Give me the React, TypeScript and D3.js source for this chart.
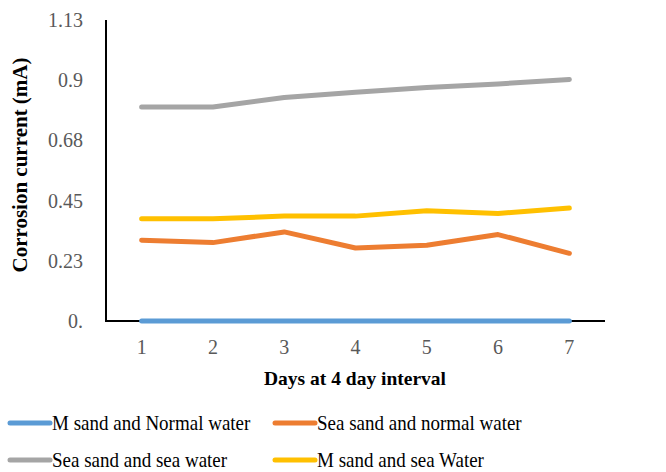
import React from "react";
import * as d3 from "d3";

const days = ["1", "2", "3", "4", "5", "6", "7"];
const yTicks = [0, 0.225, 0.45, 0.675, 0.9, 1.125];
const yTickLabels = ["0.", "0.23", "0.45", "0.68", "0.9", "1.13"];
const mSandNormal = [0, 0, 0, 0, 0, 0, 0];
const seaSandNormal = [0.302, 0.293, 0.333, 0.273, 0.283, 0.323, 0.253];
const seaSandSea = [0.8, 0.8, 0.835, 0.855, 0.873, 0.886, 0.903];
const mSandSea = [0.382, 0.382, 0.392, 0.392, 0.412, 0.402, 0.422];
const seriesNames = [
  "M sand and Normal water",
  "Sea sand and normal water",
  "Sea sand and sea water",
  "M sand and sea Water",
];
const colors = ["#5b9bd5", "#ed7d31", "#a5a5a5", "#ffc000"];

export default function App() {
  const W = 666, H = 472;
  const left = 106, right = 605, top = 20, bottom = 321;
  const x = d3.scalePoint<string>().domain(days).range([left, right]).padding(0.5);
  const y = d3.scaleLinear().domain([0, 1.125]).range([bottom, top]);
  const line = d3
    .line<number>()
    .x((_, i) => x(days[i]) as number)
    .y((d) => y(d));
  const data = [mSandNormal, seaSandNormal, seaSandSea, mSandSea];
  const drawOrder = [2, 3, 1, 0];
  const font = "'Liberation Serif', 'Times New Roman', serif";
  const legendPos = [
    [8, 423],
    [273, 423],
    [8, 460],
    [273, 460],
  ];
  return (
    <svg
      width={W}
      height={H}
      style={{ position: "absolute", left: 0, top: 0, background: "#fff" }}
      fontFamily={font}
    >
      <rect width={W} height={H} fill="#fff" />
      {yTicks.map((t, i) => (
        <text
          key={i}
          x={83}
          y={y(t)}
          dy="0.35em"
          textAnchor="end"
          fontSize={20}
          fill="#595959"
        >
          {yTickLabels[i]}
        </text>
      ))}
      {days.map((d) => (
        <text
          key={d}
          x={x(d)}
          y={347}
          dy="0.35em"
          textAnchor="middle"
          fontSize={20}
          fill="#595959"
        >
          {d}
        </text>
      ))}
      <text
        transform={`translate(27,165) rotate(-90)`}
        textAnchor="middle"
        fontSize={21}
        fontWeight="bold"
      >
        Corrosion current (mA)
      </text>
      <text x={355} y={385} textAnchor="middle" fontSize={19.5} fontWeight="bold">
        Days at 4 day interval
      </text>
      <line x1={left} x2={left} y1={top} y2={bottom} stroke="#000" strokeWidth={2} />
      <line x1={left - 1} x2={right} y1={bottom} y2={bottom} stroke="#000" strokeWidth={2} />
      {drawOrder.map((k) => (
        <path
          key={k}
          d={line(data[k]) || ""}
          fill="none"
          stroke={colors[k]}
          strokeWidth={5}
          strokeLinecap="round"
          strokeLinejoin="round"
        />
      ))}
      {seriesNames.map((n, i) => (
        <g key={n} transform={`translate(${legendPos[i][0]},${legendPos[i][1]})`}>
          <line x1={2} x2={42} y1={0} y2={0} stroke={colors[i]} strokeWidth={5} strokeLinecap="round" />
          <text x={44} y={0} dy="0.35em" fontSize={19} fill="#000" transform="scale(1,1.1)">
            {n}
          </text>
        </g>
      ))}
    </svg>
  );
}
